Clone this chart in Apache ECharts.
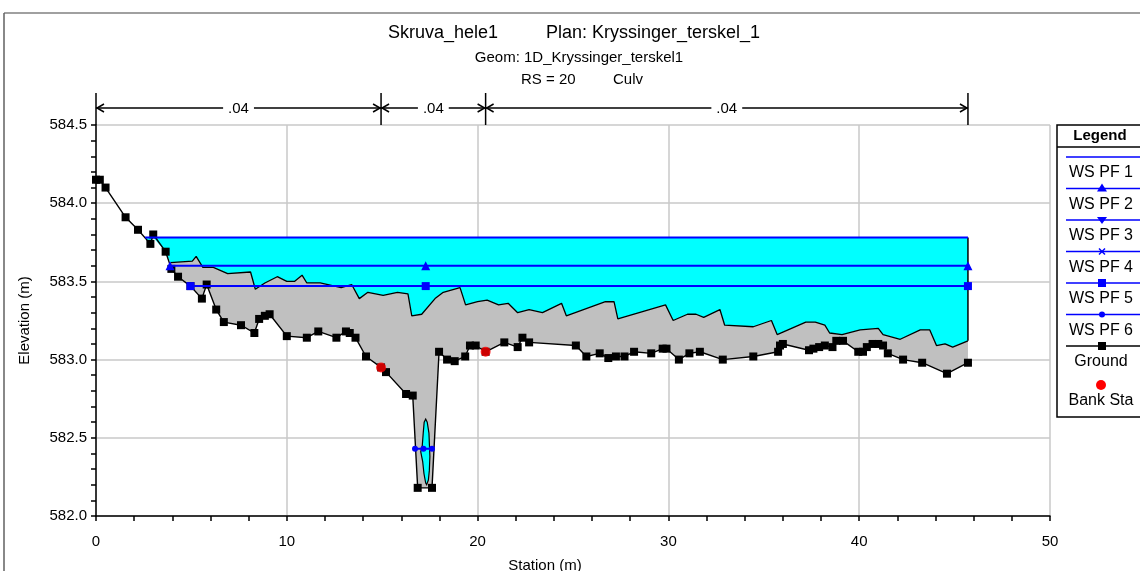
<!DOCTYPE html>
<html><head><meta charset="utf-8">
<script src="https://cdn.jsdelivr.net/npm/echarts@6/dist/echarts.min.js"></script>
<style>html,body{margin:0;padding:0;background:#fff}#c{width:1140px;height:571px}</style>
</head><body><div id="c"></div>
<script>
// ---------- data ----------
const groundSta = [0.0,0.2,0.5,1.55,2.2,2.85,3.0,3.65,3.95,4.3,4.95,5.55,5.8,6.3,6.7,7.6,8.3,8.55,8.85,9.1,10.0,11.05,11.65,12.6,13.1,13.3,13.6,14.15,14.94,15.2,16.25,16.6,16.86,17.61,17.98,18.4,18.8,19.35,19.6,19.9,20.42,21.4,22.1,22.35,22.7,25.15,25.7,26.4,26.85,27.25,27.7,28.2,29.1,29.7,29.9,30.55,31.1,31.65,32.85,34.45,35.75,35.85,36.0,37.37,37.6,37.9,38.2,38.6,38.8,39.15,39.95,40.2,40.4,40.7,41.0,41.25,41.5,42.3,43.3,44.6,45.7];
const groundElev = [584.15,584.15,584.10,583.91,583.83,583.74,583.80,583.69,583.58,583.53,583.47,583.39,583.48,583.32,583.24,583.22,583.17,583.26,583.28,583.29,583.15,583.14,583.18,583.14,583.18,583.17,583.14,583.02,582.95,582.92,582.78,582.77,582.18,582.18,583.05,583.00,582.99,583.02,583.09,583.09,583.05,583.11,583.08,583.14,583.11,583.09,583.02,583.04,583.01,583.02,583.02,583.05,583.04,583.07,583.07,583.00,583.04,583.05,583.00,583.02,583.05,583.09,583.10,583.06,583.07,583.08,583.09,583.08,583.12,583.12,583.05,583.05,583.08,583.10,583.10,583.09,583.04,583.00,582.98,582.91,582.98];
// upper edge of the grey (culvert) region
const obstSta = [3.9,5.05,5.25,5.6,6.15,6.9,8.1,8.35,8.85,9.5,10.0,10.4,10.8,11.05,11.75,12.85,13.4,13.8,14.25,15.05,15.8,16.35,16.55,17.07,17.77,18.2,19.08,19.37,20.0,20.5,21.1,21.6,22.1,22.7,23.4,24.4,24.65,26.7,27.15,27.35,29.85,30.25,31.0,31.45,31.85,32.7,32.95,34.45,35.4,35.7,37.2,37.7,38.2,38.45,39.1,40.05,41.0,41.25,42.15,43.2,43.7,44.05,44.5,44.9,45.7];
const obstElev = [583.62,583.63,583.66,583.59,583.59,583.55,583.56,583.45,583.49,583.53,583.50,583.50,583.54,583.49,583.49,583.46,583.48,583.39,583.43,583.41,583.43,583.42,583.28,583.29,583.39,583.43,583.46,583.35,583.37,583.38,583.35,583.36,583.30,583.32,583.30,583.36,583.28,583.37,583.37,583.26,583.35,583.25,583.29,583.29,583.27,583.32,583.22,583.21,583.25,583.16,583.24,583.24,583.22,583.17,583.16,583.19,583.20,583.16,583.13,583.19,583.19,583.09,583.10,583.08,583.12];
// water inside the culvert barrel
const culvSta = [17.28,17.20,17.15,17.10,17.02,17.12,17.19,17.28,17.33,17.42,17.47,17.50,17.47,17.45,17.36];
const culvElev = [582.62,582.60,582.53,582.45,582.41,582.35,582.27,582.21,582.20,582.23,582.29,582.38,582.47,582.53,582.60];
const bankSta = [14.94, 20.42];
const bankElev = [582.95, 583.05];
const wsPF1Sta = [2.57, 45.7];       const wsPF1Elev = 583.78;
const wsPF2Sta = [3.88, 17.28, 45.7]; const wsPF2Elev = 583.60;
const wsPF5Sta = [4.95, 17.28, 45.7]; const wsPF5Elev = 583.47;
const wsPF6Sta = [16.72, 17.16, 17.61]; const wsPF6Elev = 582.43;
const nBreaks = [0, 14.94, 20.42, 45.7];
const nValues = ['.04', '.04', '.04'];
const legendNames = ['WS PF 1','WS PF 2','WS PF 3','WS PF 4','WS PF 5','WS PF 6','Ground','Bank Sta'];
const titleMain = 'Skruva_hele1', titlePlan = 'Plan: Kryssinger_terskel_1';
const titleGeom = 'Geom: 1D_Kryssinger_terskel1';
const titleRS = 'RS = 20', titleType = 'Culv';

// ---------- build ----------
const FONT = 'Liberation Sans, Arial, sans-serif';
const BLUE = '#0000ff', CYAN = '#00ffff', GREY = '#c0c0c0';
const pairs = (s, e) => s.map((v, i) => [v, Array.isArray(e) ? e[i] : e]);

const cyanPts = [[wsPF1Sta[0], wsPF1Elev], [wsPF1Sta[1], wsPF1Elev]];
for (let i = obstSta.length - 1; i >= 0; i--) cyanPts.push([obstSta[i], obstElev[i]]);
for (let i = groundSta.length - 1; i >= 0; i--)
  if (groundSta[i] < obstSta[0] && groundSta[i] > wsPF1Sta[0]) cyanPts.push([groundSta[i], Math.min(groundElev[i], wsPF1Elev)]);

const greyPts = pairs(obstSta, obstElev);
for (let i = groundSta.length - 1; i >= 0; i--)
  if (groundSta[i] >= obstSta[0] && groundSta[i] <= obstSta[obstSta.length - 1]) greyPts.push([groundSta[i], groundElev[i]]);

const culvPts = pairs(culvSta, culvElev);

function polySeries(name, pts, fill, stroke, z) {
  return {
    type: 'custom', name, silent: true, z, clip: true,
    data: [pts[0]], encode: { x: 0, y: 1 },
    renderItem: (params, api) => ({
      type: 'polygon',
      shape: { points: pts.map(p => api.coord(p)) },
      style: { fill, stroke: stroke || null, lineWidth: 1.2 }
    })
  };
}

const lastObst = obstSta.length - 1;
const option = {
  animation: false,
  backgroundColor: '#fff',
  textStyle: { fontFamily: FONT },
  grid: { left: 96, right: 90, top: 125, bottom: 55 },
  xAxis: {
    type: 'value', min: 0, max: 50, interval: 10,
    axisLine: { onZero: false, lineStyle: { color: '#000', width: 1.5 } },
    axisTick: { inside: false, length: 5, lineStyle: { color: '#000', width: 1.5 } },
    minorTick: { show: true, splitNumber: 5, length: 5, lineStyle: { color: '#000', width: 1.5 } },
    axisLabel: { color: '#000', fontSize: 15, margin: 18, fontFamily: FONT },
    splitLine: { show: true, lineStyle: { color: '#c8c8c8', width: 1.5 } }
  },
  yAxis: {
    type: 'value', min: 582, max: 584.5, interval: 0.5,
    name: 'Elevation (m)', nameLocation: 'middle', nameGap: 64,
    nameTextStyle: { color: '#000', fontSize: 15, fontFamily: FONT },
    axisLine: { show: true, onZero: false, lineStyle: { color: '#000', width: 1.5 } },
    axisTick: { show: true, inside: false, length: 5, lineStyle: { color: '#000', width: 1.5 } },
    minorTick: { show: true, splitNumber: 5, length: 5, lineStyle: { color: '#000', width: 1.5 } },
    axisLabel: { color: '#000', fontSize: 15, margin: 9, fontFamily: FONT, formatter: v => v.toFixed(1) },
    splitLine: { show: true, lineStyle: { color: '#c8c8c8', width: 1.5 } }
  },
  series: [
    polySeries('water', cyanPts, CYAN, null, 1),
    polySeries('culvert', greyPts, GREY, null, 2),
    polySeries('culvert water', culvPts, CYAN, '#000', 3),
    { type: 'line', name: 'culvert top', z: 4, silent: true, symbol: 'none',
      data: pairs(obstSta, obstElev), lineStyle: { color: '#000', width: 1.3 } },
    { type: 'line', name: 'culvert end', z: 4, silent: true, symbol: 'none',
      data: [[obstSta[lastObst], obstElev[lastObst]], [obstSta[lastObst], wsPF1Elev]],
      lineStyle: { color: '#000', width: 1.5 } },
    { type: 'line', name: 'WS PF 1', z: 6, symbol: 'none', data: pairs(wsPF1Sta, wsPF1Elev),
      lineStyle: { color: BLUE, width: 2 } },
    { type: 'line', name: 'WS PF 2', z: 6, symbol: 'triangle', symbolSize: 9, showAllSymbol: true,
      data: pairs(wsPF2Sta, wsPF2Elev), itemStyle: { color: BLUE }, lineStyle: { color: BLUE, width: 2 } },
    { type: 'line', name: 'WS PF 5', z: 6, symbol: 'rect', symbolSize: 8, showAllSymbol: true,
      data: pairs(wsPF5Sta, wsPF5Elev), itemStyle: { color: BLUE }, lineStyle: { color: BLUE, width: 2 } },
    { type: 'line', name: 'Ground', z: 5, symbol: 'rect', symbolSize: 8, showAllSymbol: true,
      data: pairs(groundSta, groundElev), itemStyle: { color: '#000' }, lineStyle: { color: '#000', width: 1.4 } },
    { type: 'line', name: 'WS PF 6', z: 7, symbol: 'circle', symbolSize: 6, showAllSymbol: true,
      data: pairs(wsPF6Sta, wsPF6Elev), itemStyle: { color: BLUE }, lineStyle: { color: BLUE, width: 2 } },
    { type: 'scatter', name: 'Bank Sta', z: 8, symbol: 'circle', symbolSize: 10,
      data: pairs(bankSta, bankElev), itemStyle: { color: '#ff0000' } }
  ]
};

const chart = echarts.init(document.getElementById('c'), null, { renderer: 'canvas' });
chart.setOption(option);

// ---------- annotations ----------
const px = (x, y) => chart.convertToPixel({ gridIndex: 0 }, [x, y]);
const g = [];
const txt = (text, x, y, size, align, weight) => ({
  type: 'text', silent: true, z: 100,
  style: { text, x, y, fill: '#000', font: (weight || 'normal') + ' ' + size + 'px ' + FONT,
    textAlign: align || 'center', textVerticalAlign: 'middle', align: align || 'center', verticalAlign: 'middle' }
});
const ln = (x1, y1, x2, y2, color, w) => ({
  type: 'line', silent: true, z: 100, shape: { x1, y1, x2, y2 }, style: { stroke: color, lineWidth: w }
});

// frame
g.push(ln(4, 13, 1140, 13, '#808080', 1.5));
g.push(ln(4, 13, 4, 571, '#606060', 1.5));
// titles
g.push(txt(titleMain, 388, 33, 18, 'left'));
g.push(txt(titlePlan, 546, 33, 18, 'left'));
g.push(txt(titleGeom, 579, 58, 15, 'center'));
g.push(txt(titleRS, 521, 80, 15, 'left'));
g.push(txt(titleType, 613, 80, 15, 'left'));
// x axis name
g.push(txt('Station (m)', 545, 566, 15, 'center'));

// Manning's n segments
const topY = px(0, 584.5)[1];
const arrowY = topY - 17, barTop = topY - 32;
nBreaks.forEach(b => { const x = px(b, 584.5)[0]; g.push(ln(x, barTop, x, topY, '#000', 1.5)); });
for (let i = 0; i < nValues.length; i++) {
  const x0 = px(nBreaks[i], 584.5)[0], x1 = px(nBreaks[i + 1], 584.5)[0];
  g.push(ln(x0, arrowY, x1, arrowY, '#000', 1.5));
  g.push({ type: 'polyline', silent: true, z: 100, shape: { points: [[x0 + 8, arrowY - 4], [x0 + 1, arrowY], [x0 + 8, arrowY + 4]] }, style: { stroke: '#000', lineWidth: 1.5, fill: null } });
  g.push({ type: 'polyline', silent: true, z: 100, shape: { points: [[x1 - 8, arrowY - 4], [x1 - 1, arrowY], [x1 - 8, arrowY + 4]] }, style: { stroke: '#000', lineWidth: 1.5, fill: null } });
  const t = txt(nValues[i], (x0 + x1) / 2, arrowY + 1, 15, 'center');
  t.style.backgroundColor = '#fff'; t.style.padding = [0, 5];
  t.z = 101;
  g.push(t);
}

// legend box
const LX = 1057, LY = 125, LB = 417, lx0 = 1066, lx1 = 1140, mx = 1102;
g.push({ type: 'rect', silent: true, z: 99, shape: { x: LX, y: LY, width: 100, height: LB - LY }, style: { fill: '#fff', stroke: '#000', lineWidth: 1.5 } });
g.push(ln(LX, LY + 22, 1145, LY + 22, '#000', 1.5));
g.push(txt('Legend', 1100, LY + 11, 15, 'center', 'bold'));
const step = 31.5;
for (let k = 0; k < 7; k++) {
  const y = 157 + step * k;
  const col = k === 6 ? '#000' : BLUE;
  g.push(ln(lx0, y, lx1, y, col, 1.5));
  if (k === 1) g.push({ type: 'polygon', silent: true, z: 101, shape: { points: [[mx, y - 5], [mx - 5, y + 3], [mx + 5, y + 3]] }, style: { fill: BLUE } });
  if (k === 2) g.push({ type: 'polygon', silent: true, z: 101, shape: { points: [[mx, y + 4], [mx - 5, y - 3], [mx + 5, y - 3]] }, style: { fill: BLUE } });
  if (k === 3) { g.push(ln(mx - 3, y - 3, mx + 3, y + 3, BLUE, 1.5)); g.push(ln(mx - 3, y + 3, mx + 3, y - 3, BLUE, 1.5)); }
  if (k === 4) g.push({ type: 'rect', silent: true, z: 101, shape: { x: mx - 4, y: y - 4, width: 8, height: 8 }, style: { fill: BLUE } });
  if (k === 5) g.push({ type: 'circle', silent: true, z: 101, shape: { cx: mx, cy: y, r: 3 }, style: { fill: BLUE } });
  if (k === 6) g.push({ type: 'rect', silent: true, z: 101, shape: { x: mx - 4, y: y - 4, width: 8, height: 8 }, style: { fill: '#000' } });
  g.push(txt(legendNames[k], 1101, y + 16, 16, 'center'));
}
g.push({ type: 'circle', silent: true, z: 101, shape: { cx: 1101, cy: 385, r: 5 }, style: { fill: '#ff0000' } });
g.push(txt(legendNames[7], 1101, 401, 16, 'center'));

chart.setOption({ graphic: g });
</script>
</body></html>
